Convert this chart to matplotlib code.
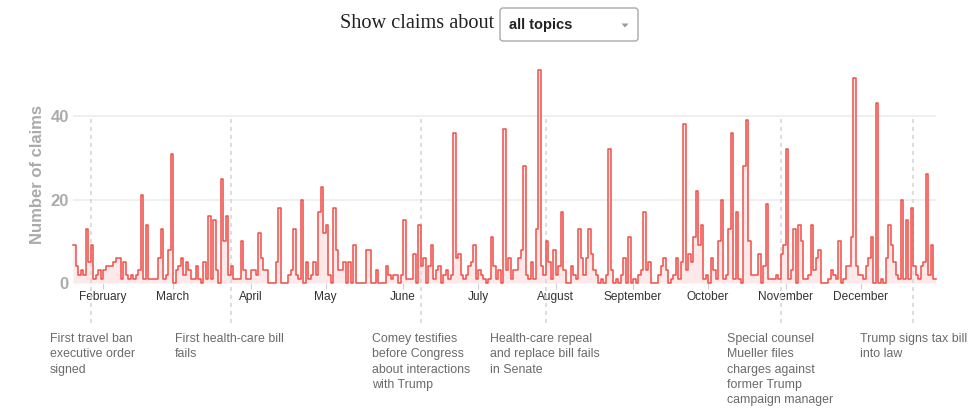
import matplotlib
matplotlib.use('Agg')
import matplotlib.pyplot as plt
import pandas as pd
from matplotlib.patches import FancyBboxPatch, Polygon
from matplotlib.transforms import IdentityTransform

# ---------------- data (claims per day, 2017) ----------------
start_date = '2017-01-20'
end_date = '2017-12-31'
claims_jan = [9, 4, 2, 3, 2, 13, 5, 9, 1, 2, 3, 1]
claims_feb = [3, 4, 4, 4, 5, 6, 6, 1, 5, 2, 1, 2, 1, 2, 3, 21, 1, 14, 1, 1, 1, 1, 6, 13, 1, 2, 8, 31]
claims_mar = [0, 3, 4, 6, 2, 5, 3, 1, 1, 4, 1, 0, 5, 1, 16, 1, 15, 3, 0, 25, 10, 16, 2, 4, 1, 1, 1, 10, 3, 1, 1]
claims_apr = [3, 3, 2, 12, 6, 3, 3, 0, 0, 0, 5, 18, 0, 0, 0, 2, 3, 13, 2, 1, 20, 0, 5, 1, 2, 5, 2, 17, 23, 12]
claims_may = [14, 2, 0, 18, 8, 3, 3, 5, 0, 5, 0, 9, 0, 0, 0, 0, 8, 8, 0, 0, 3, 0, 0, 0, 4, 2, 1, 2, 2, 0, 2]
claims_jun = [15, 1, 1, 1, 7, 0, 14, 4, 6, 0, 4, 9, 1, 3, 4, 0, 2, 3, 1, 2, 36, 6, 7, 2, 1, 2, 4, 5, 9, 1]
claims_jul = [3, 2, 1, 0, 1, 11, 4, 1, 3, 0, 37, 3, 6, 1, 3, 3, 6, 8, 28, 2, 1, 5, 1, 13, 51, 4, 2, 10, 5, 1, 8]
claims_aug = [2, 4, 17, 3, 0, 0, 4, 2, 1, 13, 6, 2, 6, 13, 7, 3, 2, 0, 1, 0, 2, 32, 3, 0, 1, 0, 2, 6, 0, 11, 0]
claims_sep = [1, 0, 2, 3, 17, 3, 5, 0, 0, 0, 2, 4, 6, 3, 0, 1, 2, 6, 1, 5, 38, 3, 7, 5, 11, 22, 9, 14, 1, 2]
claims_oct = [0, 6, 3, 1, 10, 20, 1, 2, 13, 36, 1, 17, 1, 0, 28, 39, 10, 2, 2, 2, 7, 0, 4, 19, 1, 1, 1, 2, 1, 7, 9]
claims_nov = [32, 1, 3, 13, 0, 14, 10, 1, 1, 2, 14, 3, 6, 8, 0, 0, 0, 1, 3, 2, 1, 10, 0, 1, 4, 4, 11, 49, 4, 2]
claims_dec = [2, 1, 4, 6, 11, 0, 43, 0, 1, 0, 6, 14, 9, 5, 2, 1, 20, 1, 15, 1, 18, 4, 2, 1, 4, 5, 26, 2, 9, 1, 1]

month_ticks = ['2017-02-01', '2017-03-01', '2017-04-01', '2017-05-01', '2017-06-01', '2017-07-01',
               '2017-08-01', '2017-09-01', '2017-10-01', '2017-11-01', '2017-12-01']
month_labels = ['February', 'March', 'April', 'May', 'June', 'July', 'August',
                'September', 'October', 'November', 'December']

y_ticks = [0, 20, 40]

event_dates = ['2017-01-27', '2017-03-24', '2017-06-08', '2017-07-28', '2017-10-30', '2017-12-22']
event_labels = ['First travel ban\nexecutive order\nsigned',
                'First health-care bill\nfails',
                'Comey testifies\nbefore Congress\nabout interactions\nwith Trump',
                'Health-care repeal\nand replace bill fails\nin Senate',
                'Special counsel\nMueller files\ncharges against\nformer Trump\ncampaign manager',
                'Trump signs tax bill\ninto law']

title_text = 'Show claims about'
dropdown_text = 'all topics'
y_label = 'Number of claims'

# ---------------- build ----------------
values = (claims_jan + claims_feb + claims_mar + claims_apr + claims_may + claims_jun +
          claims_jul + claims_aug + claims_sep + claims_oct + claims_nov + claims_dec)
dates = pd.date_range(start_date, end_date, freq='D')
assert len(dates) == len(values)

W, H = 980, 420
fig = plt.figure(figsize=(W / 100, H / 100), dpi=100)
fig.patch.set_facecolor('white')

px_per_unit = 4.175
ytop = 52
ax = fig.add_axes([73 / W, (H - 283) / H, 862.5 / W, ytop * px_per_unit / H])
ax.set_xlim(dates[0], dates[-1])
ax.set_ylim(0, ytop)
for s in ax.spines.values():
    s.set_visible(False)

ax.set_yticks(y_ticks)
ax.set_yticklabels([str(t) for t in y_ticks], fontsize=12, fontweight='bold',
                   color='#ababab', family='Liberation Sans')
ax.yaxis.grid(True, color='#ececec', lw=1.2)
ax.tick_params(axis='y', length=0, pad=3)
ax.set_axisbelow(True)

ax.set_xticks(pd.to_datetime(month_ticks))
ax.set_xticklabels(month_labels, fontsize=8.6, color='#333333', family='Liberation Sans')
ax.tick_params(axis='x', length=4.5, width=0.8, color='#d0d0d0', pad=1.5)

ax.fill_between(dates, values, step='post', color='#fde9e9', lw=0, zorder=2)
ev = pd.to_datetime(event_dates)
ax.vlines(ev, -9.6, 40, colors='#d8d8d8', linestyles=(0, (2.4, 2.4)), lw=1.2,
          clip_on=False, zorder=2.5)
ax.step(dates, values, where='post', color='#f04e48', lw=1.1, zorder=3, clip_on=False)

# event annotations: text block sits left of its dashed line
text_left_px = [50, 175, 372, 490, 727, 860]
for xpx, lab in zip(text_left_px, event_labels):
    for i, line in enumerate(lab.split('\n')):
        fig.text(xpx / W, 1 - (342 + 15.3 * i) / H, line, ha='left', va='baseline',
                 fontsize=8.9, color='#6a6a6a', family='Liberation Sans')

fig.text(37 / W, 1 - 174 / H, y_label, rotation=90, ha='center', va='center',
         fontsize=12, fontweight='bold', color='#ababab', family='Liberation Sans')

fig.text(494 / W, 1 - 24 / H, title_text, ha='right', va='center', fontsize=14.6,
         color='#222222', family='Liberation Serif')
box = FancyBboxPatch((500, H - 41), 138, 33, boxstyle='round,pad=0,rounding_size=3',
                     transform=IdentityTransform(), facecolor='white', edgecolor='#a9a9a9', lw=1)
fig.add_artist(box)
fig.text(509 / W, 1 - 24.5 / H, dropdown_text, ha='left', va='center', fontsize=10.5,
         fontweight='bold', color='#222222', family='Liberation Sans')
tri = Polygon([(621.5, H - 23.5), (628.5, H - 23.5), (625, H - 27.5)], closed=True,
              transform=IdentityTransform(), facecolor='#9a9a9a', edgecolor='none')
fig.add_artist(tri)

fig.savefig('out.png', dpi=100)
